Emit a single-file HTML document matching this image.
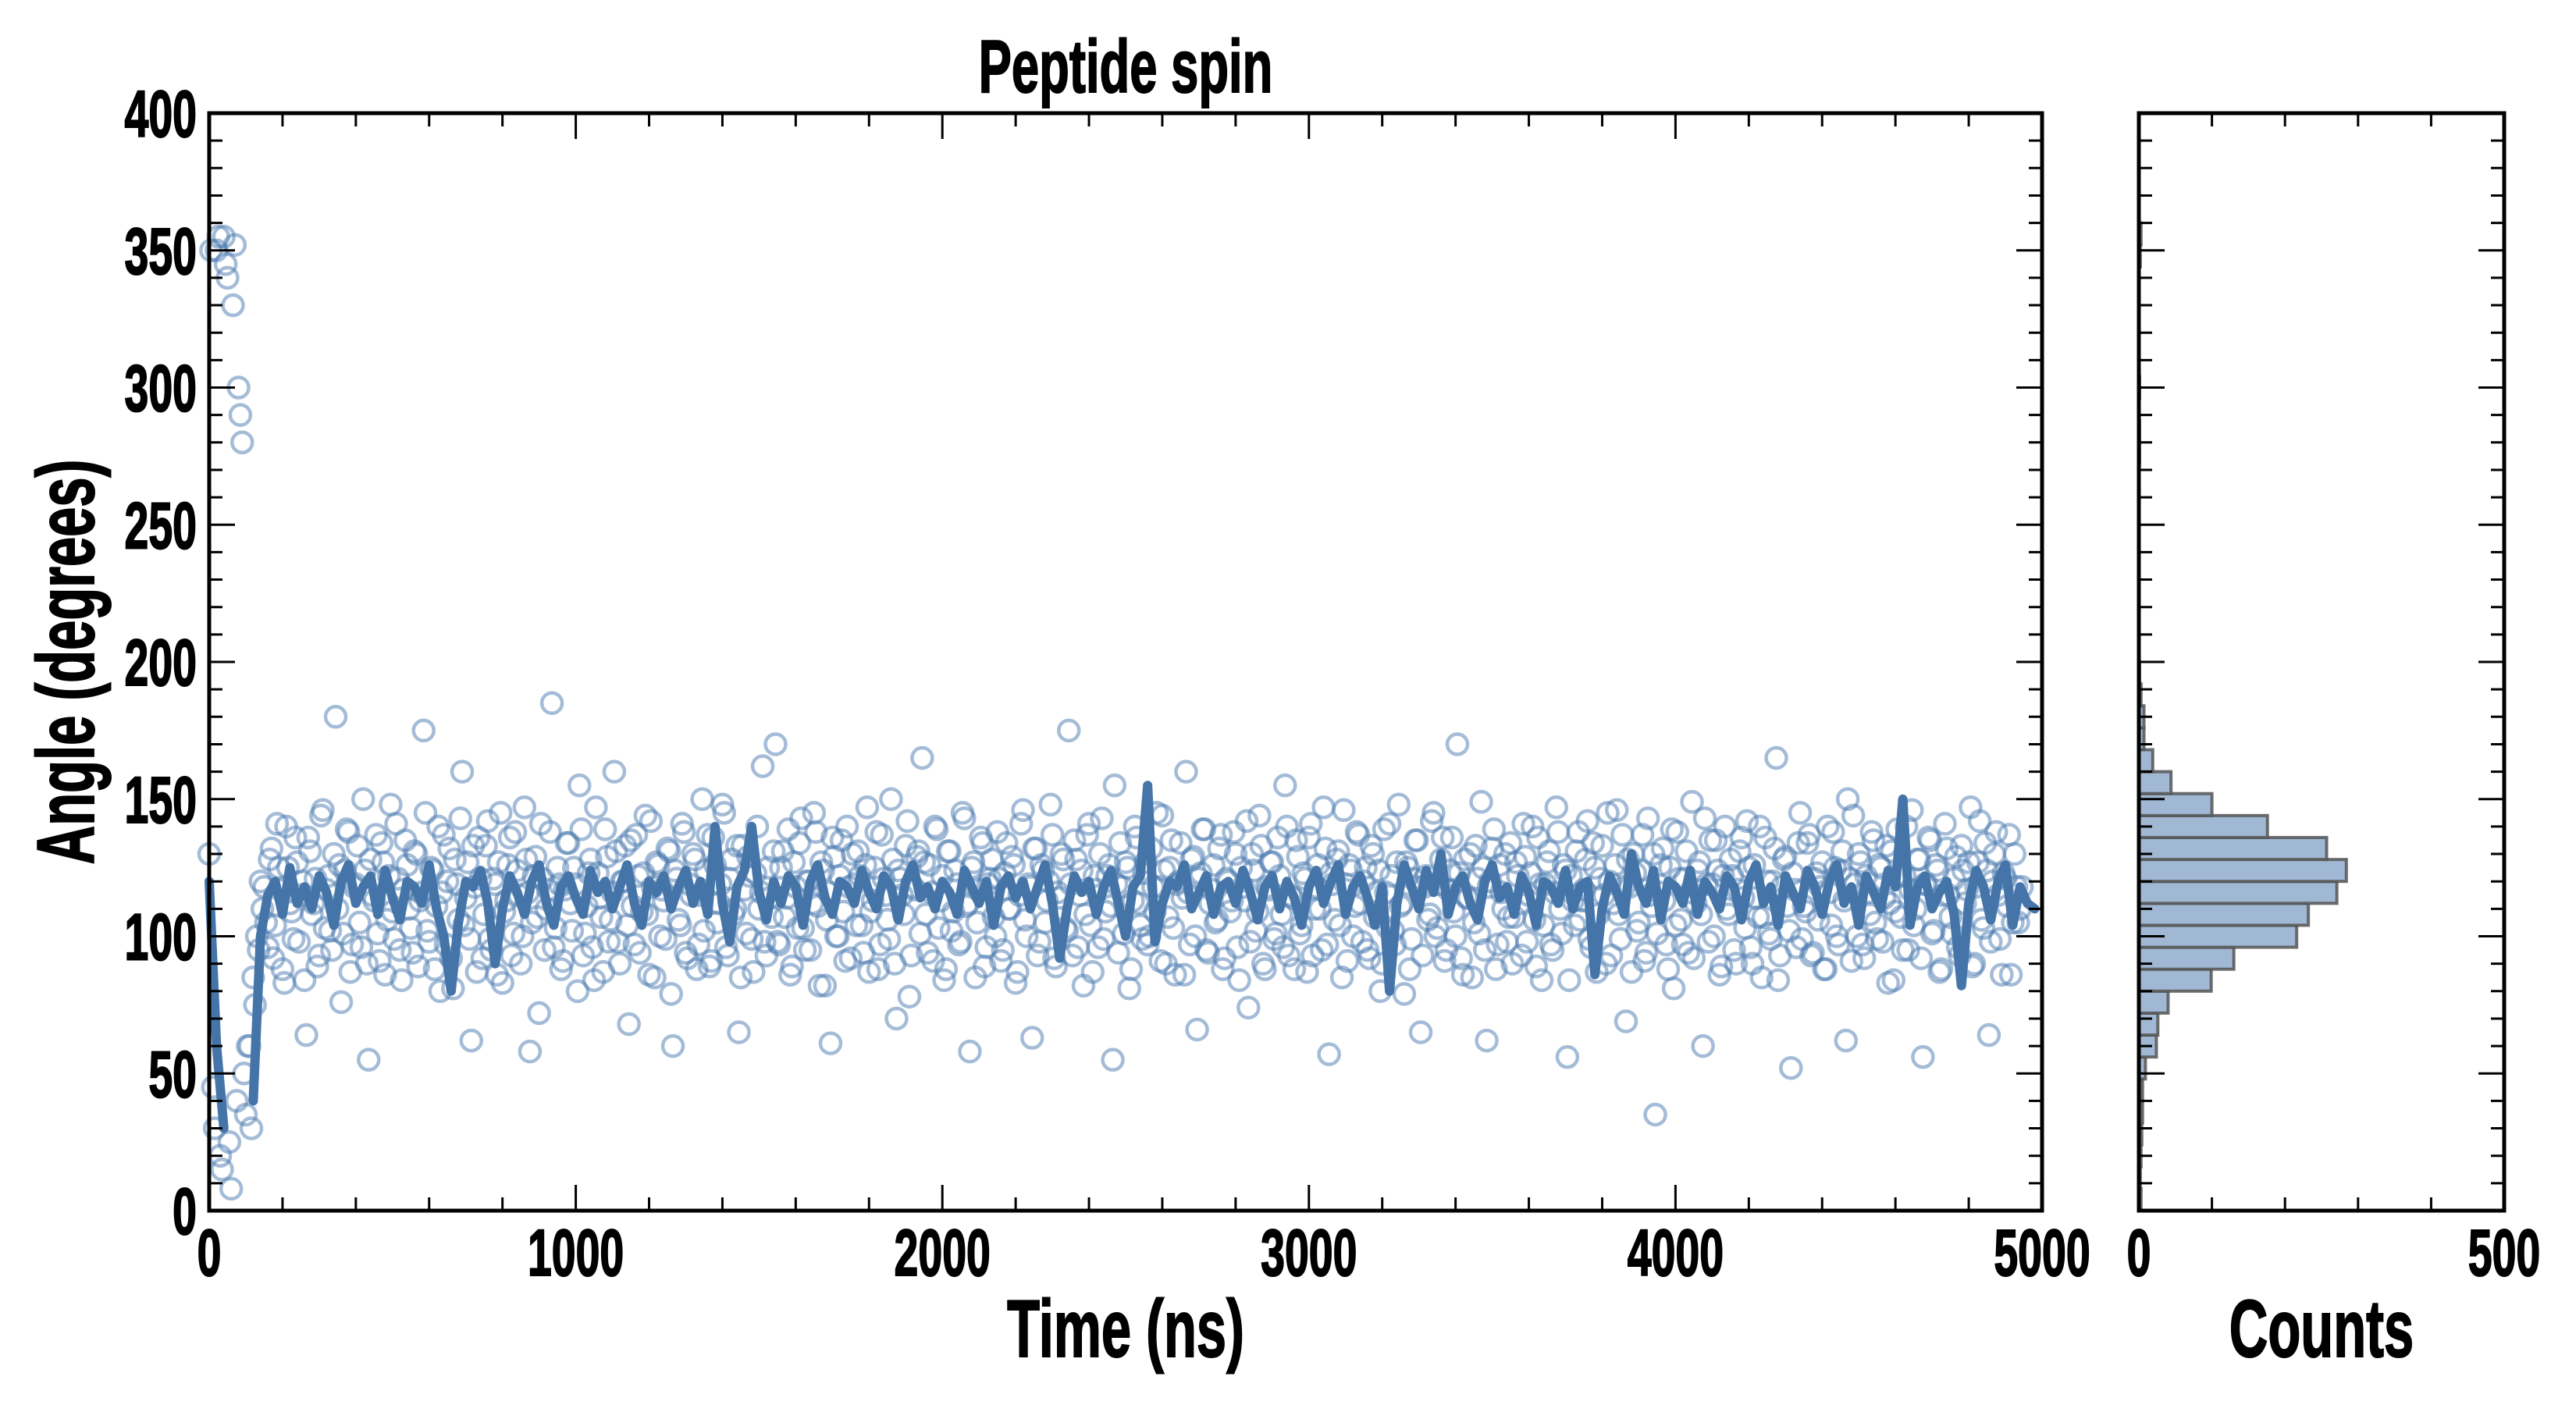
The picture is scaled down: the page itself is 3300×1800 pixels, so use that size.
<!DOCTYPE html>
<html><head><meta charset="utf-8"><style>
html,body{margin:0;padding:0;background:#fff;}
svg{display:block;}
text{font-family:"Liberation Sans",sans-serif;font-weight:bold;fill:#000;}
</style></head><body>
<svg id="chart" width="3300" height="1800" xmlns="http://www.w3.org/2000/svg"></svg>
<script>
// ---- data ----
const scatterDt = 10;
const scatterAngles = [130,45,350,20,355,340,8,352,300,280,35,60,85,100,120,
118,96,132,104,125,88,140,112,99,127,115,84,136,108,121,93,146,117,102,130,
110,76,124,138,97,119,105,150,90,128,113,101,134,86,122,109,141,95,117,126,
103,131,89,116,145,98,124,111,80,137,120,92,128,106,160,114,99,133,87,121,
108,142,95,119,127,83,113,136,101,124,90,147,116,105,129,72,121,110,138,96,
125,88,117,134,102,119,155,93,111,128,84,123,107,139,98,116,131,90,120,104,
135,97,122,109,144,86,118,127,100,113,132,79,124,106,141,94,119,130,88,115,
102,137,91,126,112,148,96,121,108,133,85,117,129,99,123,110,162,93,114,131,
98,125,107,139,89,118,134,103,120,95,145,111,127,82,116,136,100,122,109,140,
92,119,131,104,126,87,113,138,97,121,106,150,90,124,115,133,78,118,129,101,
127,94,116,140,103,122,88,131,109,119,98,143,112,125,85,117,134,96,121,107,
138,91,123,110,129,83,115,146,100,118,132,93,126,105,120,137,89,114,128,102,
119,135,96,124,108,141,87,117,130,99,122,111,155,94,118,127,81,113,136,104,
123,97,132,109,118,144,90,125,103,119,134,86,116,128,100,121,139,95,112,126,
106,137,92,120,113,130,84,118,142,98,124,109,133,88,117,127,101,122,96,140,
115,88,129,104,121,136,93,118,110,147,97,123,106,131,85,119,126,100,138,112,
120,95,133,107,124,90,116,141,102,127,111,79,125,99,135,118,93,122,108,145,
103,128,91,117,136,100,123,86,114,130,105,121,149,95,118,132,88,126,110,98,
134,107,122,93,129,115,140,89,119,104,127,97,116,138,101,124,84,113,131,106,
117,142,96,125,108,133,90,120,112,146,99,118,128,87,123,105,137,94,115,130,
101,126,113,88,139,104,121,97,131,116,92,124,108,143,98,119,135,86,122,110,
128,95,117,136,103,125,90,114,140,107,120,99,132,84,118,129,102,123,96,145,
111,134,93,121,106,127,88,116,138,100,124,113,150,91,119,130,97,122,108,135,
99,125,114,83,131,109,122,95,140,117,104,128,92,119,136,101,126,87,115,132,
107,121,96,133,112,127,89,118,142,103,124,98,130,115,86,121,137,105,118,110];
const scatterOffset2 = 5;
const scatterAngles2 = [350,30,355,15,345,25,330,40,290,50,60,30,75,95,110,
105,128,92,141,117,83,125,109,136,98,120,64,131,112,89,144,103,122,95,180,
126,101,139,87,118,133,96,124,55,115,137,91,127,106,148,99,121,84,135,110,
94,130,113,175,102,125,88,140,116,97,132,81,119,143,104,127,62,118,136,92,
133,99,121,86,145,109,126,93,138,115,100,128,58,122,107,141,95,117,185,103,
119,91,134,112,125,80,139,101,123,96,147,114,87,129,106,160,98,120,133,68,
111,137,94,123,108,142,85,126,117,99,131,60,121,104,138,92,115,128,97,150,
124,89,136,105,119,145,93,128,110,65,133,101,122,87,140,116,98,125,107,170,
97,131,114,86,127,103,143,95,120,112,138,82,124,106,61,129,100,135,91,118,
130,104,122,94,147,109,125,88,137,115,99,128,70,121,108,142,93,117,131,165,
108,126,91,139,113,84,131,102,124,97,145,111,58,127,105,136,89,119,128,100,
121,95,134,110,126,87,141,106,119,63,132,98,124,113,148,92,116,130,103,175,
93,128,115,82,137,104,122,96,143,109,126,55,119,134,101,125,88,140,112,99,
127,100,118,145,91,124,107,135,86,120,114,160,97,129,66,123,139,94,117,105,
132,88,121,109,138,96,125,113,74,130,102,144,90,118,127,99,136,108,155,93,
114,135,101,123,87,141,110,126,95,132,57,119,128,104,146,91,124,111,137,98,
125,92,130,116,80,139,103,122,97,148,112,127,88,121,135,65,118,106,142,100,
119,136,95,124,109,170,92,128,114,85,133,101,125,62,120,139,97,116,130,107,
90,127,112,141,98,123,106,136,84,119,131,95,147,110,126,56,122,104,138,113,
128,99,134,87,121,115,145,93,126,108,137,69,118,130,102,124,91,143,111,35,
116,132,97,125,81,138,106,121,94,149,112,127,60,119,135,100,124,89,140,108,
122,90,131,114,142,96,126,107,85,136,101,120,165,93,128,111,52,117,134,99,
109,137,94,123,118,88,140,104,125,97,131,62,121,144,100,127,92,116,138,105,
126,98,133,112,84,139,107,122,95,146,110,128,56,119,135,102,124,88,141,115,
101,129,93,124,117,147,90,127,106,134,64,120,138,99,123,111,86,130,105,118];
const smoothDt = 20;
const smoothAngles = [120,60,30,null,350,null,40,100,
115,120,108,125,112,118,110,122,116,104,120,126,112,118,122,108,124,114,106,120,118,112,126,110,100,
80,105,120,118,124,112,90,110,122,116,108,120,126,112,104,118,122,114,108,124,116,120,110,118,126,112,104,
120,116,122,110,118,124,112,120,108,140,112,98,118,124,140,116,106,120,112,122,118,104,120,126,114,108,120,118,112,124,
116,110,122,118,106,120,126,114,118,110,120,116,108,124,118,112,120,104,118,122,114,120,110,118,126,112,92,110,122,116,
120,108,118,124,112,100,118,122,155,98,112,120,118,126,110,116,122,108,118,120,112,124,116,106,118,122,110,120,114,104,
118,124,112,120,126,108,118,122,114,104,118,80,112,126,118,110,124,116,130,108,118,122,112,106,120,126,114,118,108,122,
116,104,120,118,112,124,110,118,120,86,110,122,116,108,130,118,112,124,106,120,118,112,124,108,120,116,110,122,118,106,
120,126,112,118,104,122,116,110,124,118,108,120,126,112,118,104,122,116,110,124,118,150,104,118,122,110,116,120,108,82,
112,124,118,106,120,126,104,118,112,110];
const histBinWidth = 8;
const histCounts = [3,2,3,4,5,5,9,24,26,40,99,130,216,232,271,284,257,176,100,44,19,7,7,3,1,0,0,0,0,0,0,0,0,0,1,1,0,1,0,0,0,0,0,2,3];
const xTicks = [0,1000,2000,3000,4000,5000];
const yTicks = [0,50,100,150,200,250,300,350,400];
const countTicks = [0,500];

// ---- layout ----
const svg = document.getElementById('chart');
const NS = 'http://www.w3.org/2000/svg';
const M = {l:268, r:2616, t:145, b:1551};
const H = {l:2740, r:3208};
const xs = v => M.l + (v/5000)*(M.r-M.l);
const ys = v => M.b - (v/400)*(M.b-M.t);
const cs = v => H.l + (v/500)*(H.r-H.l);
const SX = 0.66;

function mk(tag, attrs, parent){
  const e = document.createElementNS(NS, tag);
  for (const k in attrs) e.setAttribute(k, attrs[k]);
  (parent||svg).appendChild(e);
  return e;
}
function label(x, y, str, size, anchor, name, rot){
  const t = mk('text', {transform:`translate(${x},${y})${rot?' rotate(-90)':''} scale(${SX},1)`, 'font-size':size, 'text-anchor':anchor||'middle', stroke:'#000', 'stroke-width':2});
  
  
  t.textContent = str;
  return t;
}

// histogram bars
const hg = mk('g', {});


histCounts.forEach((c, i) => {
  if (c <= 0) return;
  const y0 = ys(i*histBinWidth), y1 = ys((i+1)*histBinWidth);
  const r = mk('rect', {x:H.l, y:y1, width:cs(c)-H.l, height:y0-y1, fill:'#a0b8d4', stroke:'#555', 'stroke-opacity':0.85, 'stroke-width':4});
  
  
  hg.appendChild(r);
});

// scatter
const sg = mk('g', {fill:'none', stroke:'#4a7ab0', 'stroke-opacity':0.5, 'stroke-width':4.5});


scatterAngles.forEach((v, i) => {
  const c = mk('circle', {cx:xs(i*scatterDt), cy:ys(v), r:13}, sg);
  
  
});
scatterAngles2.forEach((v, i) => {
  const c = mk('circle', {cx:xs(scatterOffset2 + i*scatterDt), cy:ys(v), r:13}, sg);
  
  
});

// smoothed line (breaks at nulls)
let d = '', pen = false;
smoothAngles.forEach((v, i) => {
  if (v === null) { pen = false; return; }
  d += (pen ? 'L' : 'M') + xs(i*smoothDt).toFixed(1) + ',' + ys(v).toFixed(1);
  pen = true;
});
const line = mk('path', {d, fill:'none', stroke:'#4575a8', 'stroke-width':12, 'stroke-linejoin':'round', 'stroke-linecap':'round'});



// ticks
const tg = mk('g', {stroke:'#000', 'stroke-width':3});


for (let v = 0; v <= 5000; v += 200) {
  const L = v % 1000 === 0 ? 33 : 17, x = xs(v);
  mk('line', {x1:x, y1:M.b, x2:x, y2:M.b-L}, tg);
  mk('line', {x1:x, y1:M.t, x2:x, y2:M.t+L}, tg);
}
for (let v = 0; v <= 400; v += 10) {
  const L = v % 50 === 0 ? 33 : 17, y = ys(v);
  mk('line', {x1:M.l, y1:y, x2:M.l+L, y2:y}, tg);
  mk('line', {x1:M.r, y1:y, x2:M.r-L, y2:y}, tg);
  mk('line', {x1:H.l, y1:y, x2:H.l+L, y2:y}, tg);
  mk('line', {x1:H.r, y1:y, x2:H.r-L, y2:y}, tg);
}
for (let v = 0; v <= 500; v += 100) {
  const x = cs(v);
  mk('line', {x1:x, y1:M.b, x2:x, y2:M.b-17}, tg);
  mk('line', {x1:x, y1:M.t, x2:x, y2:M.t+17}, tg);
}

// frames
const f1 = mk('rect', {x:M.l, y:M.t, width:M.r-M.l, height:M.b-M.t, fill:'none', stroke:'#000', 'stroke-width':5});


const f2 = mk('rect', {x:H.l, y:M.t, width:H.r-H.l, height:M.b-M.t, fill:'none', stroke:'#000', 'stroke-width':5});



// tick labels
xTicks.forEach(v => label(xs(v), 1634, String(v), 84, 'middle', 'x-tick-label'));
yTicks.forEach(v => label(252, ys(v)+30, String(v), 84, 'end', 'y-tick-label'));
countTicks.forEach(v => label(cs(v), 1634, String(v), 84, 'middle', 'count-tick-label'));

// titles
label(1442, 118, 'Peptide spin', 96, 'middle', 'chart-title');
label(1442, 1738, 'Time (ns)', 104, 'middle', 'x-axis-title');
label(2974, 1738, 'Counts', 104, 'middle', 'histogram-x-axis-title');
label(120, 848, 'Angle (degrees)', 104, 'middle', 'y-axis-title', true);
</script>
</body></html>
